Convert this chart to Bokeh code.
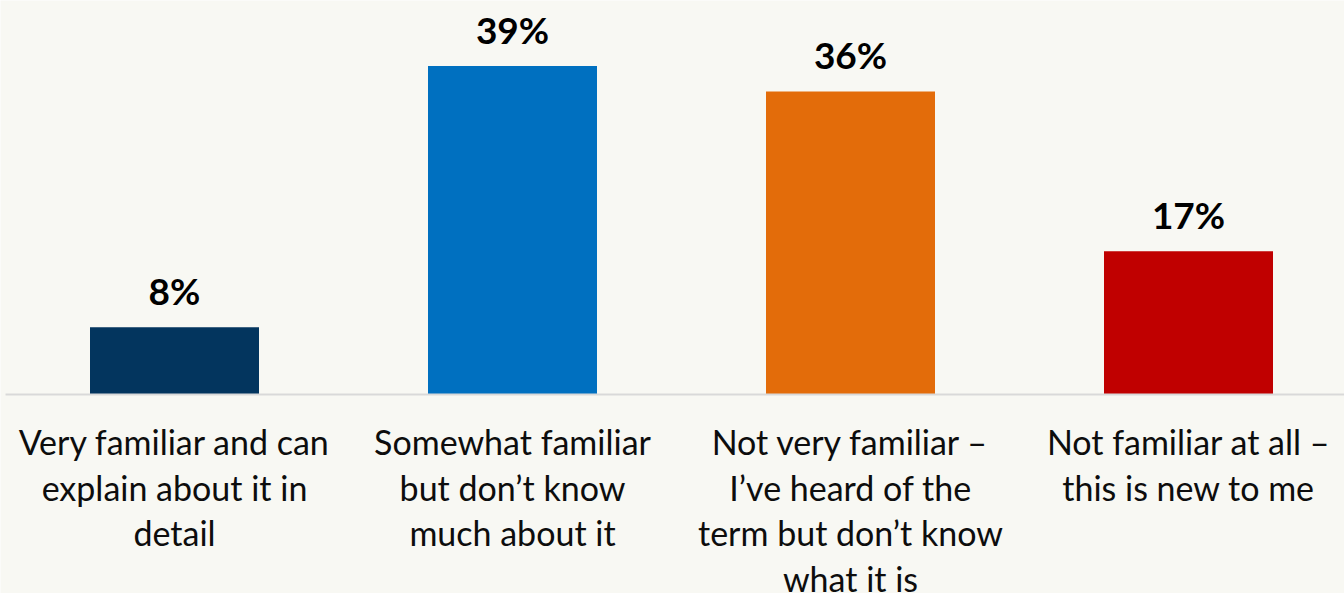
from bokeh.plotting import figure
from bokeh.models import ColumnDataSource, Range1d
from bokeh.core.properties import value
from bokeh.embed import file_html
from bokeh.resources import INLINE

# Survey responses: familiarity with the term
categories = [
    "Very familiar and can\nexplain about it in\ndetail",
    "Somewhat familiar\nbut don\u2019t know\nmuch about it",
    "Not very familiar \u2013\nI\u2019ve heard of the\nterm but don\u2019t know\nwhat it is",
    "Not familiar at all \u2013\nthis is new to me",
]
percentages = [8, 39, 36, 17]
bar_colors = ["#03355E", "#0070C0", "#E36C0A", "#C00000"]

BG = "#F8F8F3"
FONT = "Lato"

W, H = 1344, 593
px_per_pct = 8.42
baseline_px = 394
first_center_px = 174
step_px = 338

xs = list(range(len(categories)))
bars = ColumnDataSource(dict(
    x=xs,
    top=percentages,
    color=bar_colors,
    label=[f"{v}%" for v in percentages],
))

# Category labels, one row per text line
lx, ltext, loff = [], [], []
for i, cat in enumerate(categories):
    for j, line in enumerate(cat.split("\n")):
        lx.append(i)
        ltext.append(line)
        loff.append(47 + j * 45.5)
cat_src = ColumnDataSource(dict(x=lx, text=ltext, off=loff, y=[0] * len(lx)))

p = figure(
    width=W, height=H,
    x_range=Range1d(-first_center_px / step_px, (W - first_center_px) / step_px),
    y_range=Range1d(-(H - baseline_px) / px_per_pct, baseline_px / px_per_pct),
    output_backend="svg", toolbar_location=None,
    min_border=0, border_fill_color=BG, background_fill_color=BG,
)
p.outline_line_color = None
p.axis.visible = False
p.grid.visible = False

p.vbar(x="x", top="top", bottom=0, width=0.5, color="color", line_color=None, source=bars)

# Baseline
p.segment(x0=[-0.5], y0=[0], x1=[len(categories) - 0.5], y1=[0],
          line_color="#D9D9D9", line_width=2)

# Value labels above bars
p.text(x="x", y="top", text="label", source=bars,
       text_font=value(FONT), text_font_style="bold", text_font_size="37px",
       text_color="#000000", text_align="center", text_baseline="alphabetic",
       y_offset=-37)

# Category labels under the baseline
p.text(x="x", y="y", text="text", y_offset="off", source=cat_src,
       text_font=value(FONT), text_font_size="34px",
       text_color="#0D0D0D", text_align="center", text_baseline="alphabetic")

open("out.html", "w").write(file_html(p, INLINE))
